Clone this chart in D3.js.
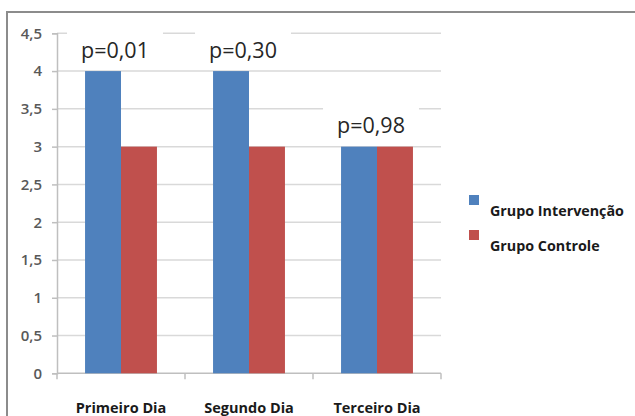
<!DOCTYPE html>
<html>
<head>
<meta charset="utf-8">
<script src="https://cdn.jsdelivr.net/npm/d3@7"></script>
<style>
  html, body { margin: 0; padding: 0; background: #fff; }
  svg { display: block; }
</style>
</head>
<body>
<svg id="chart" width="635" height="416"></svg>
<script>
const categories = ["Primeiro Dia", "Segundo Dia", "Terceiro Dia"];
const seriesNames = ["Grupo Intervenção", "Grupo Controle"];
const intervencao = [4, 4, 3];
const controle = [3, 3, 3];
const pLabels = ["p=0,01", "p=0,30", "p=0,98"];
const yTicks = [0, 0.5, 1, 1.5, 2, 2.5, 3, 3.5, 4, 4.5];
const colors = ["#4F81BD", "#C0504D"];

const series = [intervencao, controle];
const svg = d3.select("#chart");
const W = 635, H = 416;
const m = { left: 57, right: 441, top: 33.3, bottom: 373.3 };

// outer frame
svg.append("line").attr("x1", 7).attr("x2", 7).attr("y1", 12).attr("y2", H)
  .attr("stroke", "#8c8c8c").attr("stroke-width", 2);
svg.append("line").attr("x1", 6).attr("x2", W).attr("y1", 12).attr("y2", 12)
  .attr("stroke", "#8c8c8c").attr("stroke-width", 2);

const x = d3.scaleBand().domain(categories).range([m.left, m.right]);
const x1 = d3.scaleBand().domain(seriesNames).range([0, x.bandwidth()]).paddingOuter(0.78);
const y = d3.scaleLinear().domain([0, 4.5]).range([m.bottom, m.top]);

// gridlines
svg.append("g").selectAll("line").data(yTicks.filter(d => d > 0)).join("line")
  .attr("x1", m.left).attr("x2", m.right)
  .attr("y1", d => y(d)).attr("y2", d => y(d))
  .attr("stroke", "#d9d9d9").attr("stroke-width", 1.5);

// y axis
const yAxis = svg.append("g").attr("transform", `translate(${m.left},0)`)
  .call(d3.axisLeft(y).tickValues(yTicks).tickSize(5).tickPadding(10)
    .tickFormat(d => String(d).replace(".", ",")));
yAxis.select(".domain").attr("stroke", "#bfbfbf").attr("stroke-width", 1.5);
yAxis.selectAll(".tick line").attr("stroke", "#bfbfbf").attr("stroke-width", 1.5);
yAxis.selectAll(".tick text").attr("font-family", "'Open Sans', sans-serif")
  .attr("font-size", 15).attr("font-weight", 600).attr("fill", "#595959");

// x axis
const xAxisG = svg.append("g").attr("transform", `translate(0,${m.bottom})`);
xAxisG.append("line").attr("x1", m.left).attr("x2", m.right)
  .attr("stroke", "#bfbfbf").attr("stroke-width", 1.5);
const bounds = categories.map(c => x(c)).concat([x(categories[categories.length - 1]) + x.bandwidth()]);
xAxisG.selectAll("line.tk").data(bounds).join("line").attr("class", "tk")
  .attr("x1", d => d).attr("x2", d => d).attr("y1", 0).attr("y2", 6)
  .attr("stroke", "#bfbfbf").attr("stroke-width", 1.5);
xAxisG.selectAll("text").data(categories).join("text")
  .attr("x", d => x(d) + x.bandwidth() / 2).attr("y", 40)
  .attr("text-anchor", "middle")
  .attr("font-family", "'Open Sans', sans-serif").attr("font-size", 14.5)
  .attr("font-weight", 700).attr("fill", "#1a1a1a").text(d => d);

// p label positions
const groupMax = categories.map((c, i) => d3.max(series, s => s[i]));
const labelBaseline = i => Math.max(y(groupMax[i]) - 13.5, y(4.31));
const labelX = i => x(categories[i]) + x.bandwidth() / 2 - 6;

const labelG = svg.append("g");
const labelTexts = labelG.selectAll("text").data(pLabels).join("text")
  .attr("x", (d, i) => labelX(i)).attr("y", (d, i) => labelBaseline(i))
  .attr("text-anchor", "middle")
  .attr("font-family", "'Open Sans', sans-serif").attr("font-size", 21.5)
  .attr("fill", "#262626").text(d => d);
// white boxes behind labels
labelTexts.each(function () {
  const b = this.getBBox();
  labelG.insert("rect", "text")
    .attr("x", b.x - 14).attr("y", b.y - 8)
    .attr("width", b.width + 28).attr("height", b.height + 12)
    .attr("fill", "#fff");
});

// bars
svg.append("g").selectAll("g").data(categories).join("g")
  .attr("transform", d => `translate(${x(d)},0)`)
  .selectAll("rect").data((d, i) => series.map((s, k) => ({ k, v: s[i] }))).join("rect")
  .attr("x", d => x1(seriesNames[d.k])).attr("width", x1.bandwidth())
  .attr("y", d => y(d.v)).attr("height", d => y(0) - y(d.v))
  .attr("fill", d => colors[d.k]);

// raise labels above bars
labelG.raise();
labelG.selectAll("rect").lower();

// legend
const leg = svg.append("g");
seriesNames.forEach((n, i) => {
  leg.append("rect").attr("x", 469).attr("y", 195 + i * 35).attr("width", 10).attr("height", 10)
    .attr("fill", colors[i]);
  leg.append("text").attr("x", 490).attr("y", 216 + i * 35)
    .attr("font-family", "'Open Sans', sans-serif").attr("font-size", 14.3)
    .attr("font-weight", 700).attr("fill", "#1a1a1a").text(n);
});
</script>
</body>
</html>
